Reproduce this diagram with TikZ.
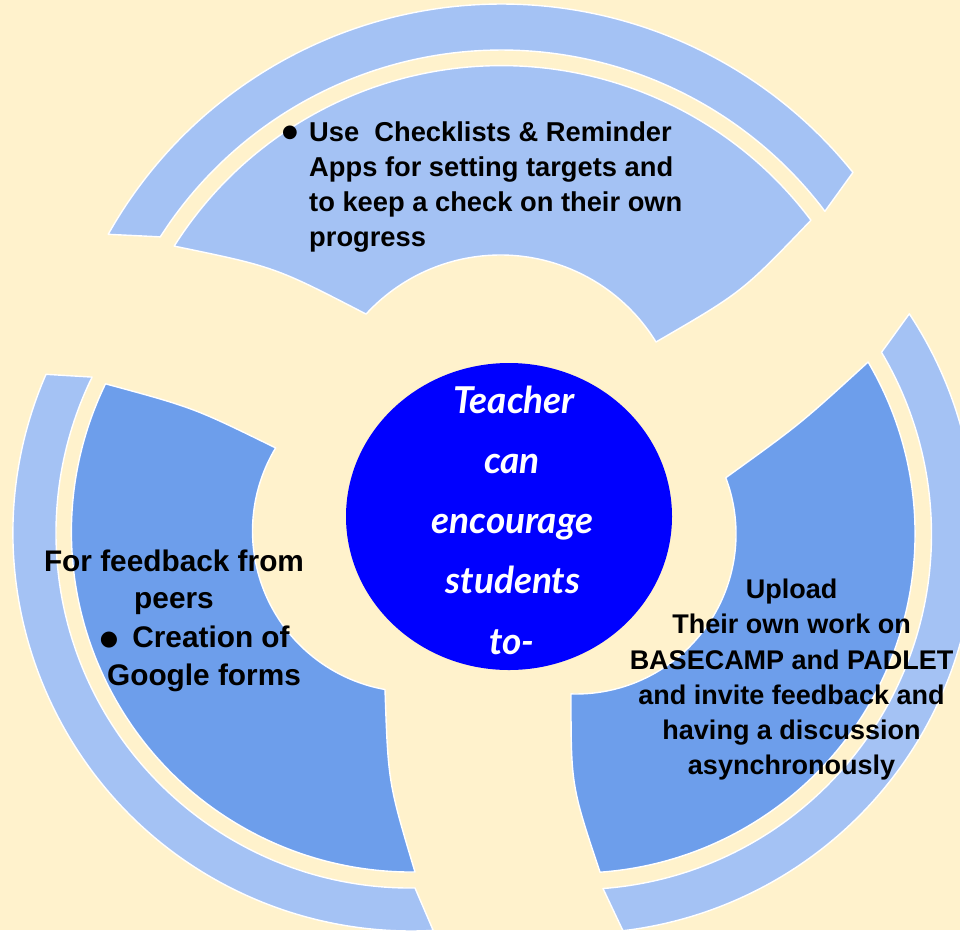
\documentclass[tikz,border=0pt]{standalone}
\usepackage{fontspec}
\setmainfont{Liberation Sans}
\newfontfamily\handfont{Lato}
\newfontfamily\symbfont{DejaVu Sans}
\usetikzlibrary{shapes.geometric}
\definecolor{bgc}{HTML}{FFF2CC}
\definecolor{lightblue}{HTML}{A4C2F4}
\definecolor{midblue}{HTML}{6D9EEB}
\definecolor{coreblue}{HTML}{0000FF}
\begin{document}
\begin{tikzpicture}[x=1pt,y=1pt,yscale=-1,
  piece/.style={draw=white, line width=1.4pt, line join=round},
  band/.style={piece, fill=lightblue},
  topseg/.style={piece, fill=lightblue},
  sideseg/.style={piece, fill=midblue},
  toptext/.style={font=\bfseries\fontsize{27.3}{35}\selectfont, inner sep=0pt, anchor=base west},
  lefttext/.style={font=\bfseries\fontsize{29.8}{38}\selectfont, inner sep=0pt, anchor=base},
  righttext/.style={font=\bfseries\fontsize{27}{35}\selectfont, inner sep=0pt, anchor=base},
  coretext/.style={font=\handfont\bfseries\itshape\fontsize{37}{60}\selectfont, text=white, inner sep=0pt, anchor=base},
  bul/.style={font=\symbfont\fontsize{18}{18}\selectfont, inner sep=0pt}]
\useasboundingbox (0,0) rectangle (960,930);
\fill[bgc] (0,0) rectangle (960,930);
\clip (0,0) rectangle (960,930);
% top band and segment
\path[band] (108.2,234.3) arc[start angle=-150.7,end angle=-38.8,radius=451]
  -- (824.9,211.3) arc[start angle=-37,end angle=-147.4,radius=405] -- cycle;
\path[topseg] (174.2,246.1) arc[start angle=-147.75,end angle=-36.9,radius=387]
  .. controls (742.2,292) .. (656,342)
  arc[start angle=-31.55,end angle=-137.44,radius=182.5]
  .. controls (274.7,266.8) .. (174.2,246.1) -- cycle;
% left band and segment
\path[band] (46,374.3) arc[start angle=203.5,end angle=86.8,radius=398]
  -- (415,888) arc[start angle=89.35,end angle=206.06,radius=355] -- cycle;
\path[sideseg] (105.5,383.8) arc[start angle=205.85,end angle=89.4,radius=340]
  .. controls (388.2,782.6) .. (385,689.5)
  arc[start angle=100.2,end angle=211.1,radius=161]
  .. controls (193.6,407.7) .. (105.5,383.8) -- cycle;
% right band and segment
\path[band] (909.3,313.8) arc[start angle=-33.45,end angle=83.25,radius=399.5]
  -- (603,888.5) arc[start angle=85.64,end angle=-30.75,radius=355.5] -- cycle;
\path[sideseg] (868.1,362) arc[start angle=-30.5,end angle=85.94,radius=339]
  .. controls (571,785.4) .. (571,693.9)
  arc[start angle=91.8,end angle=-20.6,radius=160]
  .. controls (800.3,424) .. (868.1,362) -- cycle;
% centre
\node[ellipse, minimum width=326pt, minimum height=307pt, fill=coreblue, inner sep=0pt] (core) at (509,516.5) {};
\node[coretext] (c1) at (514,413.3) {Teacher};
\node[coretext] (c2) at (512,473.3) {can};
\node[coretext] (c3) at (512.5,533.3) {encourage};
\node[coretext] (c4) at (513,593.3) {students};
\node[coretext] (c5) at (512,654) {to-};
% top text
\node[bul] (tb) at (290,133.3) {●};
\node[toptext] (t1) at (309,141.7) {Use\ \ Checklists \& Reminder};
\node[toptext] (t2) at (309,176.7) {Apps for setting targets and};
\node[toptext] (t3) at (309,211.7) {to keep a check on their own};
\node[toptext] (t4) at (309,246.7) {progress};
% left text
\node[lefttext] (l1) at (174,571.7) {For feedback from};
\node[lefttext] (l2) at (174,608.3) {peers};
\node[bul, font=\symbfont\fontsize{21}{21}\selectfont] (lb) at (109,640) {●};
\node[lefttext] (l3) at (211,647.7) {Creation of};
\node[lefttext] (l4) at (204,685.7) {Google forms};
% right text
\node[righttext] (r1) at (791.5,598.3) {Upload};
\node[righttext] (r2) at (791.5,633.3) {Their own work on};
\node[righttext] (r3) at (791.5,669) {BASECAMP and PADLET};
\node[righttext] (r4) at (791.5,704.3) {and invite feedback and};
\node[righttext] (r5) at (791.5,739.3) {having a discussion};
\node[righttext] (r6) at (791.5,774) {asynchronously};
\end{tikzpicture}
\end{document}
